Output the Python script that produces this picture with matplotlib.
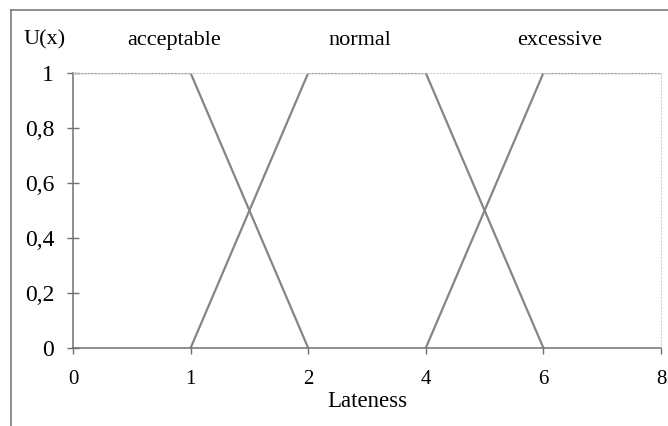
import numpy as np
import matplotlib
matplotlib.use("Agg")
import matplotlib.pyplot as plt
from matplotlib.lines import Line2D

plt.rcParams['font.family'] = ['Liberation Serif', 'DejaVu Serif']

# lateness categories (equally spaced on the axis)
lateness = ['0', '1', '2', '4', '6', '8']

# membership values, nan where the set is not drawn
acceptable = [1, 1, 0, np.nan, np.nan, np.nan]
normal = [np.nan, 0, 1, 1, 0, np.nan]
excessive = [np.nan, np.nan, np.nan, 0, 1, 1]

set_names = ['acceptable', 'normal', 'excessive']
name_pos = [0.86, 2.44, 4.14]

y_ticks = [0, 0.2, 0.4, 0.6, 0.8, 1]
y_labels = ['0', '0,2', '0,4', '0,6', '0,8', '1']

fig = plt.figure(figsize=(6.68, 4.26), dpi=100)
ax = fig.add_axes([0.1093, 0.1831, 0.8802, 0.6455])

x = np.arange(len(lateness))
for s in (acceptable, normal, excessive):
    ax.plot(x, s, color='#858585', lw=1.6, solid_joinstyle='miter')

ax.set_xlim(0, len(lateness) - 1)
ax.set_ylim(0, 1)
ax.set_xticks(x)
ax.set_xticklabels(lateness, fontsize=15)
ax.set_yticks(y_ticks)
ax.set_yticklabels(y_labels, fontsize=17)
ax.tick_params(axis='y', direction='inout', length=9, width=1, color='#707070', pad=9)
ax.tick_params(axis='x', direction='out', length=4, width=1, color='#707070', pad=12)

for side in ('left', 'bottom'):
    ax.spines[side].set_color('#707070')
    ax.spines[side].set_linewidth(1.1)
for side in ('top', 'right'):
    ax.spines[side].set_color('#d0d0d0')
    ax.spines[side].set_linewidth(0.8)
    ax.spines[side].set_linestyle((0, (1, 2)))

ax.set_xlabel('Lateness', fontsize=16.5, labelpad=1)

for name, px in zip(set_names, name_pos):
    ax.text(px, 1.12, name, ha='center', va='center', fontsize=16)
ax.text(-0.24, 1.12, 'U(x)', ha='center', va='center', fontsize=16)

# outer frame, top and left edges
fig.add_artist(Line2D([11 / 668, 1], [1 - 10 / 426] * 2, color='#707070', lw=1.1))
fig.add_artist(Line2D([11 / 668] * 2, [0, 1 - 10 / 426], color='#707070', lw=1.1))

fig.savefig('out.png', dpi=100)
